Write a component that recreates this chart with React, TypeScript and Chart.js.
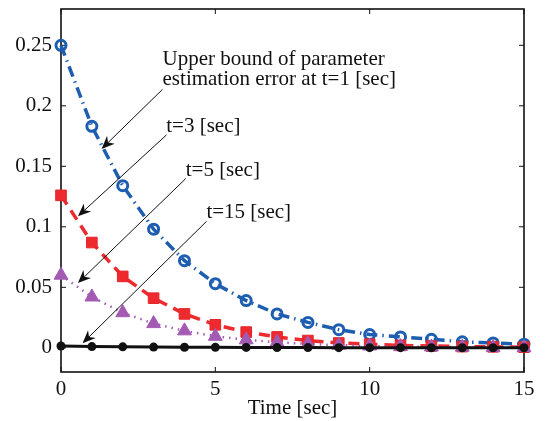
import React, { useEffect, useRef } from 'react';
import { Chart, registerables } from 'chart.js';
Chart.register(...registerables);

const time = [0, 1, 2, 3, 4, 5, 6, 7, 8, 9, 10, 11, 12, 13, 14, 15];
const boundT1 = [0.25, 0.183, 0.134, 0.098, 0.072, 0.053, 0.039, 0.028, 0.021, 0.015, 0.011, 0.009, 0.007, 0.005, 0.004, 0.003];
const boundT3 = [0.126, 0.087, 0.059, 0.041, 0.028, 0.019, 0.013, 0.009, 0.006, 0.004, 0.003, 0.002, 0.0015, 0.001, 0.0008, 0.0005];
const boundT5 = [0.06, 0.042, 0.029, 0.02, 0.014, 0.0095, 0.0066, 0.0046, 0.0032, 0.0022, 0.0015, 0.001, 0.0007, 0.0005, 0.0003, 0.0002];
const boundT15 = [0.0015, 0.001, 0.0008, 0.0006, 0.0005, 0.0004, 0.0003, 0.0002, 0.0002, 0.0001, 0.0001, 0.0001, 0, 0, 0, 0];

const xTicks = [0, 5, 10, 15];
const xTickLabels = ['0', '5', '10', '15'];
const yTicks = [0, 0.05, 0.1, 0.15, 0.2, 0.25];
const yTickLabels = ['0', '0.05', '0.1', '0.15', '0.2', '0.25'];

const xTitle = 'Time [sec]';

// annotation labels: text lines, anchor (data coords of first baseline start)
const annotLines = [
  ['Upper bound of parameter', 'estimation error at t=1 [sec]'],
  ['t=3 [sec]'],
  ['t=5 [sec]'],
  ['t=15 [sec]'],
];
const annotTextX = [3.29, 3.41, 4.04, 4.71];
const annotTextY = [0.234, 0.178, 0.142, 0.107];
const annotLineStep = [0.017, 0, 0, 0];
// arrows: tail -> tip in data coords
const arrowTailX = [3.29, 3.42, 4.04, 4.72];
const arrowTailY = [0.2136, 0.176, 0.1398, 0.1046];
const arrowTipX = [1.315, 0.548, 0.548, 0.7];
const arrowTipY = [0.1644, 0.1087, 0.0535, 0.0038];

const FONT = "'Liberation Serif', 'Times New Roman', Times, serif";

const frame = {
  id: 'frame',
  beforeDatasetsDraw(chart: any) {
    const { ctx, chartArea: a, scales } = chart;
    ctx.save();
    ctx.strokeStyle = '#111';
    ctx.lineWidth = 1.6;
    ctx.strokeRect(a.left, a.top, a.right - a.left, a.bottom - a.top);
    ctx.lineWidth = 1;
    const tl = 5;
    ctx.beginPath();
    xTicks.forEach((v) => {
      const px = scales.x.getPixelForValue(v);
      ctx.moveTo(px, a.bottom);
      ctx.lineTo(px, a.bottom - tl);
      ctx.moveTo(px, a.top);
      ctx.lineTo(px, a.top + tl);
    });
    yTicks.forEach((v) => {
      const py = scales.y.getPixelForValue(v);
      ctx.moveTo(a.left, py);
      ctx.lineTo(a.left + tl, py);
      ctx.moveTo(a.right, py);
      ctx.lineTo(a.right - tl, py);
    });
    ctx.stroke();
    ctx.restore();
  },
  afterDatasetsDraw(chart: any) {
    const { ctx, scales } = chart;
    const X = (v: number) => scales.x.getPixelForValue(v);
    const Y = (v: number) => scales.y.getPixelForValue(v);
    ctx.save();
    ctx.fillStyle = '#111';
    ctx.font = `21px ${FONT}`;
    ctx.textAlign = 'left';
    ctx.textBaseline = 'alphabetic';
    annotLines.forEach((lines, i) => {
      lines.forEach((t, j) => {
        ctx.fillText(t, X(annotTextX[i]), Y(annotTextY[i] - j * annotLineStep[i]));
      });
    });
    ctx.strokeStyle = '#111';
    ctx.lineWidth = 1;
    arrowTailX.forEach((_, i) => {
      const x0 = X(arrowTailX[i]);
      const y0 = Y(arrowTailY[i]);
      const x1 = X(arrowTipX[i]);
      const y1 = Y(arrowTipY[i]);
      const ang = Math.atan2(y1 - y0, x1 - x0);
      const L = 13;
      const W = 5.5;
      const ux = Math.cos(ang), uy = Math.sin(ang);
      const bx = x1 - ux * L, by = y1 - uy * L;
      const nx = bx + ux * 4, ny = by + uy * 4;
      ctx.beginPath();
      ctx.moveTo(x0, y0);
      ctx.lineTo(nx, ny);
      ctx.stroke();
      ctx.beginPath();
      ctx.moveTo(x1, y1);
      ctx.lineTo(bx - uy * W, by + ux * W);
      ctx.lineTo(nx, ny);
      ctx.lineTo(bx + uy * W, by - ux * W);
      ctx.closePath();
      ctx.fill();
    });
    ctx.restore();
  },
};

const pts = (arr: number[]) => time.map((t, i) => ({ x: t, y: arr[i] }));

export default function App() {
  const ref = useRef<HTMLCanvasElement>(null);
  useEffect(() => {
    const chart = new Chart(ref.current as HTMLCanvasElement, {
      type: 'line',
      data: {
        datasets: [
          {
            label: 't=15',
            data: pts(boundT15),
            borderColor: '#111',
            backgroundColor: '#111',
            borderWidth: 3,
            pointStyle: 'circle',
            pointRadius: 4.5,
            pointBorderWidth: 0,
            pointBackgroundColor: '#111',
            order: 0,
            clip: false,
          },
          {
            label: 't=5',
            data: pts(boundT5),
            borderColor: '#a35ab2',
            borderWidth: 2.5,
            borderDash: [1.5, 5],
            pointStyle: 'triangle',
            pointRadius: 8,
            pointBorderWidth: 1,
            pointBorderColor: '#a35ab2',
            pointBackgroundColor: '#a35ab2',
            order: 1,
            clip: false,
          },
          {
            label: 't=3',
            data: pts(boundT3),
            borderColor: '#ee2a2e',
            borderWidth: 3.5,
            borderDash: [11, 7],
            pointStyle: 'rect',
            pointRadius: 7.5,
            pointBorderWidth: 1,
            pointBorderColor: '#e4262b',
            pointBackgroundColor: '#ee2a2e',
            order: 2,
            clip: false,
          },
          {
            label: 't=1',
            data: pts(boundT1),
            borderColor: '#1d5eb0',
            borderWidth: 3.5,
            borderDash: [11, 5, 1.5, 5],
            pointStyle: 'circle',
            pointRadius: 5,
            pointBorderWidth: 3,
            pointBorderColor: '#1d5eb0',
            pointBackgroundColor: 'rgba(255,255,255,0)',
            order: 3,
            clip: false,
          },
        ],
      },
      options: {
        responsive: false,
        animation: false,
        devicePixelRatio: 1,
        layout: { padding: { top: 4, right: 21, bottom: 0, left: 0 } },
        plugins: { legend: { display: false }, tooltip: { enabled: false } },
        elements: { line: { tension: 0 } },
        scales: {
          x: {
            type: 'linear',
            min: 0,
            max: 15,
            grid: { display: false, drawTicks: false },
            border: { display: false },
            afterBuildTicks: (s: any) => {
              s.ticks = xTicks.map((v) => ({ value: v }));
            },
            afterFit: (s: any) => {
              s.height = 49;
              s.paddingLeft = 0;
              s.paddingRight = 0;
            },
            ticks: {
              padding: 5,
              color: '#111',
              font: { family: FONT, size: 21 },
              maxRotation: 0,
              autoSkip: false,
              callback: (_v: any, i: number) => xTickLabels[i],
            },
            title: {
              display: true,
              text: xTitle,
              color: '#111',
              font: { family: FONT, size: 21 },
              padding: { top: 0, bottom: 0 },
            },
          },
          y: {
            type: 'linear',
            min: -0.02,
            max: 0.28,
            grid: { display: false, drawTicks: false },
            border: { display: false },
            afterBuildTicks: (s: any) => {
              s.ticks = yTicks.map((v) => ({ value: v }));
            },
            afterFit: (s: any) => {
              s.width = 61;
              s.paddingTop = 0;
              s.paddingBottom = 0;
            },
            ticks: {
              padding: 9,
              color: '#111',
              font: { family: FONT, size: 21 },
              autoSkip: false,
              callback: (_v: any, i: number) => yTickLabels[i],
            },
          },
        },
      },
      plugins: [frame],
    } as any);
    return () => chart.destroy();
  }, []);
  return (
    <div style={{ position: 'absolute', left: 0, top: 0, width: 545, height: 421, background: '#fff' }}>
      <canvas ref={ref} width={545} height={421} style={{ display: 'block' }} />
    </div>
  );
}
